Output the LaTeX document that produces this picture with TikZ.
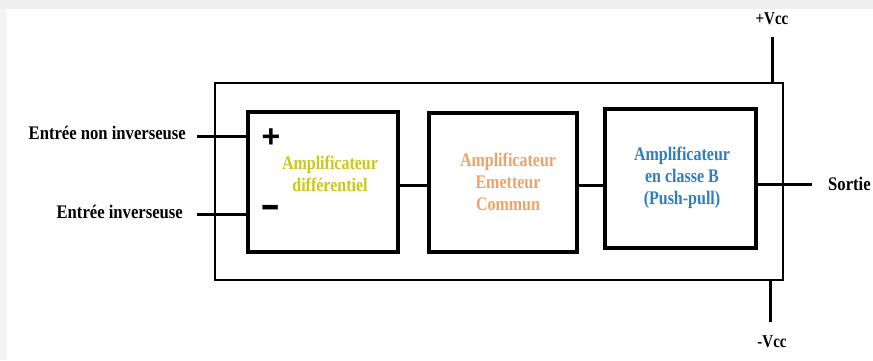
\documentclass[tikz,border=0pt]{standalone}
\usepackage{fontspec}
\setmainfont{Liberation Serif}
\newfontfamily\signfont{Liberation Sans}
\usepackage{graphicx}
\definecolor{diffyellow}{HTML}{C8C81E}
\definecolor{ecorange}{HTML}{F0A264}
\definecolor{pushblue}{HTML}{2F7EC0}
\definecolor{bandgray}{HTML}{EFEFEF}
\newcommand\vtxt[1]{\scalebox{1}[1.2]{\begin{tabular}{@{}c@{}}#1\end{tabular}}}
\tikzset{
  outerbox/.style={draw, line width=2pt, minimum width=568pt, minimum height=197pt, inner sep=0pt},
  stagebox/.style={draw, line width=4pt, inner sep=0pt},
  stagetext/.style={font=\fontsize{16}{18.6}\selectfont\bfseries, inner sep=0pt, align=center},
  wire/.style={line width=3pt},
  pinlabel/.style={font=\fontsize{16}{18}\selectfont\bfseries, inner sep=0pt},
  sign/.style={font=\signfont\bfseries, inner sep=0pt}
}
\begin{document}
\begin{tikzpicture}[x=1pt, y=-1pt]
\useasboundingbox (0,0) rectangle (873,360);
\fill[white] (0,0) rectangle (873,360);
\fill[bandgray] (0,0) rectangle (873,9);
\fill[bandgray!70] (0,9) rectangle (7,360);

% outer box
\node[outerbox] (outer) at (499,181.5) {};

% stage boxes
\node[stagebox, minimum width=150pt, minimum height=140pt] (b1) at (323,182) {};
\node[stagebox, minimum width=148pt, minimum height=139pt] (b2) at (503,182.5) {};
\node[stagebox, minimum width=151pt, minimum height=139pt] (b3) at (680.5,178.5) {};

\node[stagetext, text=diffyellow] (t1) at (330,176) {\vtxt{Amplificateur\\différentiel}};
\node[stagetext, text=ecorange] (t2) at (508,184) {\vtxt{Amplificateur\\Emetteur\\Commun}};
\node[stagetext, text=pushblue] (t3) at (682,178) {\vtxt{Amplificateur\\en classe B\\(Push-pull)}};

% inputs
\coordinate (in1) at (197,136);
\coordinate (in2) at (197,214);
\draw[wire] (in1) -- (in1 -| b1.west);
\draw[wire] (in2) -- (in2 -| b1.west);
\node[pinlabel, anchor=east] (lin1) at (186,133) {\scalebox{1.04}[1.2]{Entrée non inverseuse}};
\node[pinlabel, anchor=east] (lin2) at (183,212) {\scalebox{1.04}[1.2]{Entrée inverseuse}};

% signs
\node[sign, font=\signfont\bfseries\fontsize{32}{32}\selectfont] (plus) at (271,138) {+};
\node[sign, font=\signfont\bfseries\fontsize{38}{38}\selectfont] (minus) at (271,211) {\scalebox{1.6}[1]{-}};

% inter-stage connections
\coordinate (c12) at (0,185);
\coordinate (c23) at (0,185);
\draw[wire] (b1.east |- c12) -- (b2.west |- c12);
\draw[wire] (b2.east |- c23) -- (b3.west |- c23);

% output
\coordinate (so) at (812,184);
\draw[wire] (b3.east |- so) -- (so);
\node[pinlabel, anchor=west] (lso) at (828,184) {\scalebox{1.04}[1.2]{Sortie}};

% supplies
\coordinate (vp) at (772,37);
\coordinate (vm) at (770,322);
\draw[wire] (vp) -- (vp |- outer.north);
\draw[wire] (vm) -- (vm |- outer.south);
\node[pinlabel, font=\fontsize{15}{15}\selectfont\bfseries] (lvp) at (772,19) {\scalebox{1}[1.2]{+Vcc}};
\node[pinlabel, font=\fontsize{15}{15}\selectfont\bfseries] (lvm) at (772,342) {\scalebox{1}[1.2]{-Vcc}};
\end{tikzpicture}
\end{document}
